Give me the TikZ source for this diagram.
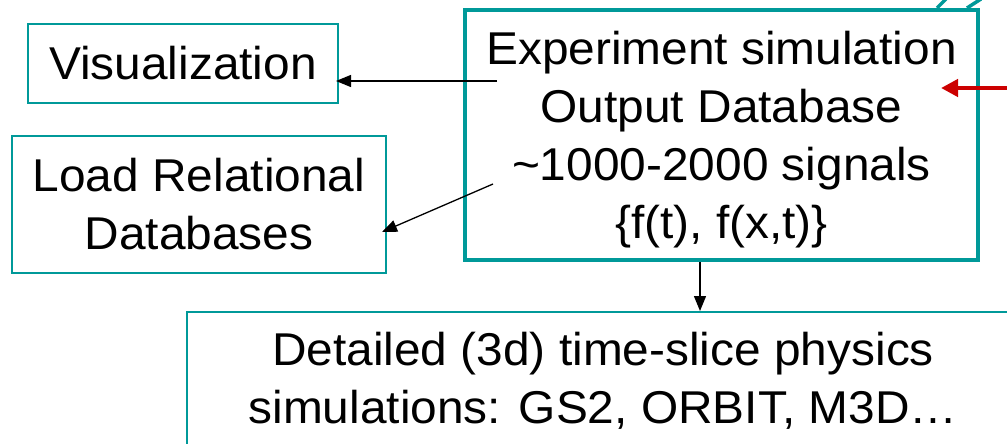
\documentclass[tikz,border=0pt]{standalone}
\usepackage{fontspec}
\setmainfont[FakeStretch=1.04]{Liberation Sans}
\usetikzlibrary{arrows.meta,calc}
\definecolor{teal1}{HTML}{009999}
\definecolor{red1}{HTML}{CC0000}
\tikzset{
  box/.style={draw=teal1, line width=2pt, fill=white, inner sep=0pt, align=center,
    font=\fontsize{46}{58}\selectfont},
  mainbox/.style={box, line width=3.5pt},
  plaintext/.style={inner sep=0pt, align=center, font=\fontsize{46}{58}\selectfont},
  conn/.style={draw=black, line width=1.3pt, -{Triangle[length=15pt,width=12pt]}},
  redconn/.style={draw=red1, line width=4.5pt, -{Triangle[length=17pt,width=17pt]}},
  slash/.style={draw=teal1, line width=3.5pt}
}
\begin{document}
\begin{tikzpicture}[x=1pt,y=-1pt]
\useasboundingbox (0,0) rectangle (1007,444);
\clip (0,0) rectangle (1007,444);
% nodes
\node[mainbox, minimum width=513pt, minimum height=250pt] (main) at (721.5,135) {};
\node[plaintext] (maintext) at (721.5,140)
  {Experiment simulation\\Output Database\\\textasciitilde1000-2000 signals\\\{f(t), f(x,t)\}};
\node[box, minimum width=310pt, minimum height=79pt] (vis) at (183,63.5) {Visualization};
\node[box, minimum width=374pt, minimum height=137pt] (load) at (199,204.5) {Load Relational\\Databases};
\node[box, minimum width=832pt, minimum height=138pt] (detail) at (603,381)
  {Detailed (3d) time-slice physics\\simulations: GS2, ORBIT, M3D\dots};
% top-right slashes (partial shape beyond the frame)
\coordinate (s1a) at (937,8); \coordinate (s1b) at (946,-1);
\coordinate (s2a) at (967,8); \coordinate (s2b) at (981,-1);
\draw[slash] (s1a) -- (s1b);
\draw[slash] (s2a) -- (s2b);
% connector end points
\coordinate (visfrom) at (497,81);
\coordinate (vistip) at (336,81);
\coordinate (loadfrom) at (493,184);
\coordinate (loadtip) at (382,232);
\coordinate (redfrom) at (1015,88);
\coordinate (redtip) at (941,88);
\coordinate (downfrom) at (700,262);
% connectors
\draw[conn] (visfrom) -- (vistip);
\draw[conn] (loadfrom) -- (loadtip);
\draw[conn] (downfrom) -- (downfrom |- detail.north);
\draw[redconn] (redfrom) -- (redtip);
\end{tikzpicture}
\end{document}
